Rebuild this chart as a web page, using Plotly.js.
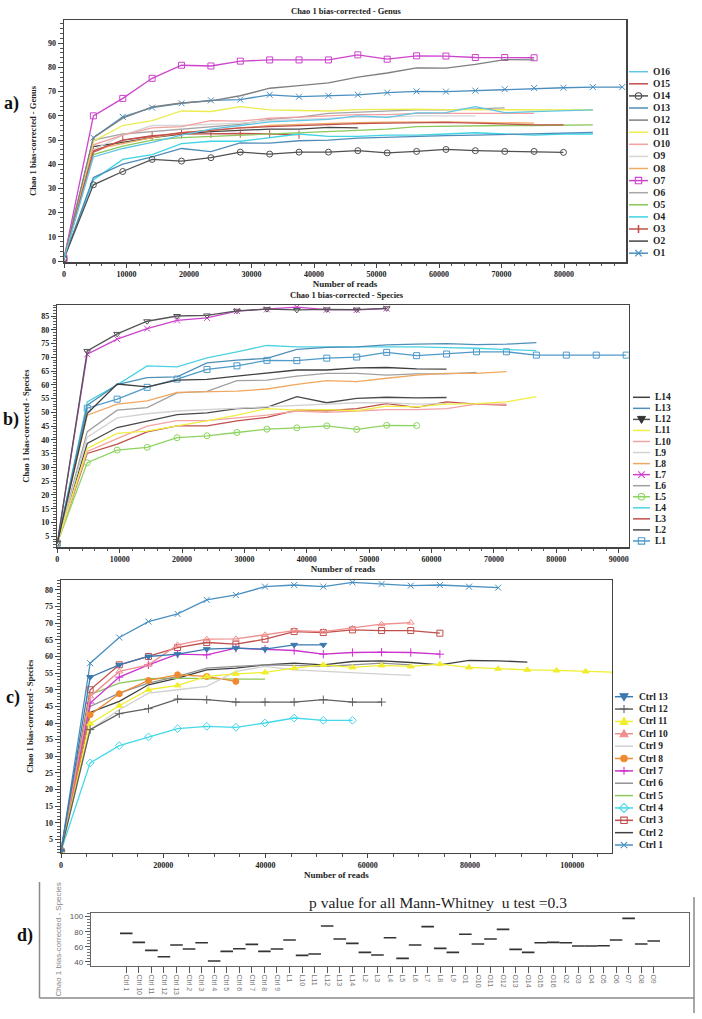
<!DOCTYPE html>
<html><head><meta charset="utf-8">
<script src="https://cdn.plot.ly/plotly-3.0.1.min.js"></script>
<style>html,body{margin:0;padding:0;background:#fff;}#chart{width:702px;height:1019px;}</style>
</head><body><div id="chart"></div>
<script>
// ---------------- DATA ----------------
// Panel a: sampling depths (reads) and Chao1 genus estimates
const readsA = [0,4700,9400,14100,18800,23500,28200,32900,37600,42300,47000,51700,56400,61100,65800,70500,75200,79900,84600,89300];
const O1  = [1,51,59.6,63.4,65.2,66.4,66.7,68.7,67.9,68.3,68.7,69.6,70.1,70,70.4,71,71.5,71.6,71.9,71.9];
const O2  = [1,47.3,49,51,52.5,53.5,54,54.5,54.5,55.2,55];
const O3  = [1,45,50,51.8,52.4,52.6,52.7,52.5,52.2];
const O4  = [1,33.5,42,44,48.5,49.5,49.5,51,52.5,51.5,51.5,52,52,52.5,53,52.5,52,52.5,52.5];
const O5  = [1,44,47.5,50,51,51.5,52,52.5,53,53.5,54,54.5,55.5,55.7,56,56,56,56.2,56.3];
const O6  = [1,50,52.5,53.5,54.5,55.5,56.5,58.5,59.5,61,61.5,62,62.5,62.5,63,63.3];
const O7  = [1,60,67.2,75.5,80.9,80.6,82.6,83.1,83.1,83.1,85.2,83.4,84.8,84.7,84.1,84.1,84];
const O8  = [1,46,48.5,51,53,54,55,56,56.5,57,57.2,57.4,57.5,57.5,57.3,57,57];
const O9  = [1,46,52,56,56,56.5,57,58,58.5,59,59.5,59.5,60,60,60];
const O10 = [1,48,52,55,55.5,58,57.8,59,59.5,60,60.5,60.5,61,61,61,61,61];
const O11 = [1,49.5,56,58,62,61.8,63.8,62.5,62.2,62,62.6,62.8,62.8,62.6,62.5,62.5,62.5,62.4,62.4];
const O12 = [1,51,59,63.7,65.3,66.2,68.3,71.4,72.5,73.6,76,77.7,79.8,79.7,81.3,83.2,83.1];
const O13 = [1,34.5,40,43,46.5,45.2,48.8,48.7,49.7,50,50.8,51.2,51.5,51.8,52,52.3,52.8,53,53.2];
const O14 = [1,31.5,37,42,41.3,42.7,45,44.2,45,45,45.6,44.7,45.3,46.1,45.6,45.3,45.3,44.9];
const O15 = [1,45.5,50,51.5,53,54,55,55.5,56,56.5,56.8,57,57.2,57.3,57,56.5,56.3,56.3];
const O16 = [1,43,46.5,49,52,54.5,56,57.5,58,58.5,60,59.4,61.2,61.3,63.8,61.3,61.7,62.1,62.5];

// Panel b: species
const readsB = [0,4800,9600,14400,19200,24000,28800,33600,38400,43200,48000,52800,57600,62400,67200,72000,76800,81600,86400,91200];
const L1  = [2.5,51.5,54.8,59.1,62.1,65.6,66.9,68.9,68.8,69.7,70.1,71.8,70.6,71.2,72,72,70.8,70.8,70.8,70.8];
const L2  = [2.5,38.7,44.5,46.9,49.2,49.8,51.4,51.8,55.7,53.5,55.1,55.5,55.3,55.4];
const L3  = [2.5,35.1,38.5,42.9,45.1,45.1,46.9,48.2,50.8,50.6,51.4,53.2,51.8,53.8,53,52.6];
const L4  = [2.5,53.8,60,66.9,66.5,69.8,72,74.3,73.8,73.7,73.8,73.8,73.8,73.5,73.3,72.8,72.4];
const L5  = [2.5,31.7,36.3,37.3,40.8,41.5,42.7,43.9,44.4,45.1,43.8,45.3,45.2];
const L6  = [2.5,43,50.8,51.7,57.1,57.6,61.5,61.7,63.2,64.2,64.2,63.5,64,64,64.5];
const L7  = [2.5,71.1,76.6,80.4,83.4,84.3,86.8,87.4,88.2,87.3,87.2,87.7];
const L8  = [2.5,49,53,54.2,57.3,57.5,57.7,58.5,60.2,61.5,61.2,62.4,63.5,64.2,64.2,64.8];
const L9  = [2.5,41,48,49.5,50.5,51,51.5,52,52.5,53,53.5,53.5,53,53.2];
const L10 = [2.5,35.8,40.5,45,47,47,48,49,50.5,50,50.5,51,51,51.4,53,53];
const L11 = [2.5,36.9,42.4,43.2,45.1,46.9,49,51.4,50.8,51,50.6,52.3,52,53,53.2,53.8,55.7];
const L12 = [2.5,72.3,78.5,83.1,85,85.2,86.9,87.5,87.2,87.4,87.3,87.8];
const L13 = [2.5,52.6,60.1,62.6,62.9,68,69,69.6,72.9,73.6,73.8,74.5,74.8,75,74.6,74.8,75.3];
const L14 = [2.5,49.6,60.3,59.3,61.7,62,63.2,64.4,65.4,65.4,66.2,66.3,65.8,65.7];

// Panel c: control species
const readsC = [0,5700,11400,17100,22800,28500,34200,39900,45600,51300,57000,62700,68400,74100,79800,85500,91200,96900,102600,108300];
const Ctrl1  = [1.5,58,65.7,70.5,72.8,77,78.5,81,81.5,81,82.3,81.8,81.3,81.5,81,80.7];
const Ctrl2  = [1.5,43.2,46.5,51.5,53.5,56,56.5,57.5,58,57.5,58.5,58.7,58.2,57.5,58.8,58.7,58.3];
const Ctrl3  = [1.5,50,57.5,60,62.7,64.2,63.7,65.2,67.5,67.2,68,67.8,67.8,67];
const Ctrl4  = [1.5,28,33.2,35.8,38.3,39,38.7,40,41.5,40.8,40.8];
const Ctrl5  = [1.5,48.5,52,53.3,53.5,53.3,53.2,53.2];
const Ctrl6  = [1.5,45,49,52,54,56.5,57,57.5,57.3,57,57.5,58,57.5];
const Ctrl7  = [1.5,46,53.8,57.5,60.7,60.5,62.5,62.2,61.8,60.7,61.2,61.3,61.2,60.7];
const Ctrl8  = [1.5,42.5,48.8,52.8,54.5,54,52.5];
const Ctrl9  = [1.5,38,44,49,50,51,55.5,57,56,55.5,55.2,54.7,54.3];
const Ctrl10 = [1.5,48,55.5,57.5,63.5,65.2,65.3,66.5,67.8,67.5,68.5,69.7,70.2];
const Ctrl11 = [1.5,39.8,45.2,50,51.3,54,54.8,55.2,56.5,57.5,56.7,57.3,57,57.7,56.7,56.3,56,55.8,55.5,55.3];
const Ctrl12 = [1.5,38,42.8,44.3,47.2,47,46.3,46.3,46.3,47,46.3,46.3];
const Ctrl13 = [1.5,53.8,57.5,60,60.7,62.2,62.5,62.2,63.5,63.5];

// Panel d: per-sample Chao1 species
const samplesD = ['Ctrl 1','Ctrl 10','Ctrl 11','Ctrl 12','Ctrl 13','Ctrl 2','Ctrl 3','Ctrl 4','Ctrl 5','Ctrl 6','Ctrl 7','Ctrl 8','Ctrl 9',
  'L1','L10','L11','L12','L13','L14','L2','L3','L4','L5','L6','L7','L8','L9',
  'O1','O10','O11','O12','O13','O14','O15','O16','O2','O3','O4','O5','O6','O7','O8','O9'];
const chaoD = [77.8,65.8,55.1,46.7,62.2,57,65.3,41,53.8,57.3,63.1,53.8,57,
  68.9,48.4,50.2,87.6,70.2,64.4,52.5,48.9,72,44.4,62.2,86.7,57.8,52.5,
  76.5,63.6,70.2,83.1,56.5,52.5,65.3,65.8,65.3,61,61,61.3,68.9,97.8,63.6,67.6];

// ---------------- STYLES ----------------
const serif = 'Liberation Serif, Times New Roman, serif';
const styleA = {
  O1:{c:'#4a8fc0',s:'x-thin'}, O2:{c:'#454545'}, O3:{c:'#c0504d',s:'line-ns'}, O4:{c:'#3fd3e3'},
  O5:{c:'#8cc85a'}, O6:{c:'#a6a6a6'}, O7:{c:'#cc44cc',s:'square-open'}, O8:{c:'#f0aa66'},
  O9:{c:'#d6d6d6'}, O10:{c:'#f2a0a0'}, O11:{c:'#ecec50'}, O12:{c:'#7f7f7f'},
  O13:{c:'#4f8db8'}, O14:{c:'#505050',s:'circle-open'}, O15:{c:'#c0504d'}, O16:{c:'#5ec6e6'}
};
const styleB = {
  L1:{c:'#4f9ac8',s:'square-open'}, L2:{c:'#4a4a4a'}, L3:{c:'#c0504d'}, L4:{c:'#4dd2e2'},
  L5:{c:'#8dd35f',s:'circle-open'}, L6:{c:'#a0a0a0'}, L7:{c:'#cc44cc',s:'x-thin'}, L8:{c:'#f0a860'},
  L9:{c:'#d2d2d2'}, L10:{c:'#f4a3a3'}, L11:{c:'#eeee44'}, L12:{c:'#555555',s:'triangle-down-open'},
  L13:{c:'#4f8fb8'}, L14:{c:'#404040'}
};
const styleC = {
  'Ctrl 1':{c:'#4a90c0',s:'x-thin'}, 'Ctrl 2':{c:'#404040'}, 'Ctrl 3':{c:'#c0504d',s:'square-open'},
  'Ctrl 4':{c:'#44d8e8',s:'diamond-open'}, 'Ctrl 5':{c:'#8dc85a'}, 'Ctrl 6':{c:'#929292'},
  'Ctrl 7':{c:'#cc33cc',s:'cross-thin'}, 'Ctrl 8':{c:'#f08a30',s:'circle'}, 'Ctrl 9':{c:'#d0d0d0'},
  'Ctrl 10':{c:'#ef8f8f',s:'triangle-up-open'}, 'Ctrl 11':{c:'#f0ee30',s:'triangle-up'},
  'Ctrl 12':{c:'#606060',s:'cross-thin'}, 'Ctrl 13':{c:'#3a7ab0',s:'triangle-down'}
};

const seriesA = {O1,O2,O3,O4,O5,O6,O7,O8,O9,O10,O11,O12,O13,O14,O15,O16};
const seriesB = {L1,L2,L3,L4,L5,L6,L7,L8,L9,L10,L11,L12,L13,L14};
const seriesC = {'Ctrl 1':Ctrl1,'Ctrl 2':Ctrl2,'Ctrl 3':Ctrl3,'Ctrl 4':Ctrl4,'Ctrl 5':Ctrl5,'Ctrl 6':Ctrl6,'Ctrl 7':Ctrl7,
  'Ctrl 8':Ctrl8,'Ctrl 9':Ctrl9,'Ctrl 10':Ctrl10,'Ctrl 11':Ctrl11,'Ctrl 12':Ctrl12,'Ctrl 13':Ctrl13};

// ---------------- LAYOUT HELPERS ----------------
const W = 702, H = 1019;
const fx = p => p / W;
const fy = p => 1 - p / H;

const traces = [];
function addSeries(series, styles, reads, xa, ya) {
  Object.keys(series).forEach(name => {
    const y = series[name], st = styles[name];
    const t = {type:'scatter', mode: st.s ? 'lines+markers' : 'lines', name,
      x: reads.slice(0, y.length), y, xaxis: xa, yaxis: ya, showlegend:false,
      line:{color: st.c, width: 1.3}, hoverinfo:'skip', cliponaxis:true};
    if (st.s) t.marker = {symbol: st.s, size: 6, color: st.c, line:{color: st.c, width: 1}};
    traces.push(t);
  });
}
addSeries(seriesA, styleA, readsA, 'x', 'y');
addSeries(seriesB, styleB, readsB, 'x2', 'y2');
addSeries(seriesC, styleC, readsC, 'x3', 'y3');
traces.push({type:'scatter', mode:'markers', x: samplesD, y: chaoD, xaxis:'x4', yaxis:'y4', showlegend:false,
  hoverinfo:'skip', marker:{symbol:'line-ew', size:9, color:'#333', line:{color:'#333', width:1.6}}});

const tickFont = {family: serif, size: 8, color: '#222', weight: 'bold'};
const titleFont = {family: serif, size: 8.5, color: '#222', weight: 'bold'};
function xax(l, r, range, dtick, minor, anchor, title) {
  return {domain:[fx(l), fx(r)], range, dtick, tick0:0, tickformat:'d', anchor, ticks:'outside', ticklen:4, tickwidth:1,
    tickcolor:'#444', showline:true, mirror:true, linecolor:'#444', linewidth:1.5, showgrid:false, zeroline:false,
    tickfont:tickFont, minor:{dtick:minor, ticks:'outside', ticklen:2.5, tickcolor:'#555', showgrid:false},
    title:{text:title, font:{...titleFont, size:9}, standoff:0}, fixedrange:true};
}
function yax(t, b, range, dtick, minor, anchor, title, standoff) {
  return {domain:[fy(b), fy(t)], range, dtick, tick0:0, anchor, ticks:'outside', ticklen:5, tickwidth:1,
    tickcolor:'#444', showline:true, mirror:true, linecolor:'#444', linewidth:1.5, showgrid:false, zeroline:false,
    tickfont:tickFont, minor:{dtick:minor, ticks:'outside', ticklen:2.5, tickcolor:'#555', showgrid:false},
    title:{text:title, font:titleFont, standoff}, fixedrange:true};
}

const shapes = [], annotations = [];
function ann(text, x, y, font, extra) {
  annotations.push(Object.assign({xref:'paper', yref:'paper', x:fx(x), y:fy(y), text, showarrow:false,
    xanchor:'center', yanchor:'middle', font}, extra || {}));
}
function markerShape(sym, color, cx, cy) {
  const base = {xref:'paper', yref:'paper', xsizemode:'pixel', ysizemode:'pixel', xanchor:fx(cx), yanchor:fy(cy),
    line:{color, width:1.1}, fillcolor:'rgba(0,0,0,0)'};
  const s = 3.2;
  switch (sym) {
    case 'square-open': return {...base, type:'rect', x0:-s, x1:s, y0:-s, y1:s};
    case 'circle-open': return {...base, type:'circle', x0:-s, x1:s, y0:-s, y1:s};
    case 'circle': return {...base, type:'circle', x0:-s, x1:s, y0:-s, y1:s, fillcolor:color};
    case 'x-thin': return {...base, type:'path', path:'M-3.2,-3.2L3.2,3.2M-3.2,3.2L3.2,-3.2'};
    case 'line-ns': return {...base, type:'path', path:'M0,-4L0,4', line:{color, width:1.6}};
    case 'cross-thin': return {...base, type:'path', path:'M-4,0L4,0M0,-4L0,4'};
    case 'triangle-down': return {...base, type:'path', path:'M-4,3L4,3L0,-4Z', fillcolor:color};
    case 'triangle-down-open': return {...base, type:'path', path:'M-4,3L4,3L0,-4Z', fillcolor:'#333', line:{color:'#333', width:1}};
    case 'triangle-up': return {...base, type:'path', path:'M-4,-3L4,-3L0,4Z', fillcolor:color};
    case 'triangle-up-open': return {...base, type:'path', path:'M-4,-3L4,-3L0,4Z', fillcolor:color};
    case 'diamond-open': return {...base, type:'path', path:'M0,4.5L4.5,0L0,-4.5L-4.5,0Z'};
  }
  return null;
}
function drawLegend(names, styles, x0, x1, tx, yTop, dy) {
  names.forEach((n, i) => {
    const st = styles[n], y = yTop + i * dy;
    shapes.push({type:'line', xref:'paper', yref:'paper', x0:fx(x0), x1:fx(x1), y0:fy(y), y1:fy(y),
      line:{color:st.c, width:1.5}});
    if (st.s) shapes.push(markerShape(st.s, st.c, (x0 + x1) / 2, y));
    ann(n, tx, y, {family:serif, size:9.5, color:'#222', weight:'bold'}, {xanchor:'left'});
  });
}

drawLegend(Object.keys(seriesA).reverse(), styleA, 629, 648, 651, 71.7, 12.1);
drawLegend(Object.keys(seriesB).reverse(), styleB, 633, 650, 653, 397.3, 11.05);
drawLegend(Object.keys(seriesC).reverse(), styleC, 615, 633, 637, 696.7, 12.36);

// titles and panel labels
ann('Chao 1 bias-corrected - Genus', 346, 11, {family:serif, size:8.5, color:'#222', weight:'bold'});
ann('Chao 1 bias-corrected - Species', 347, 295, {family:serif, size:8.5, color:'#222', weight:'bold'});
const lab = {family:serif, size:18, color:'#111', weight:'bold'};
ann('a)', 11, 103, lab); ann('b)', 11, 419, lab); ann('c)', 13, 697, lab); ann('d)', 25, 935, lab);
ann('p value for all Mann-Whitney  u test =0.3', 438, 902, {family:serif, size:15.5, color:'#222'});

// panel d frame
const fr = {color:'#8a8a8a', width:1.5};
shapes.push({type:'line', xref:'paper', yref:'paper', x0:fx(39.5), x1:fx(39.5), y0:fy(882), y1:fy(998), line:fr});
shapes.push({type:'line', xref:'paper', yref:'paper', x0:fx(39.5), x1:fx(694), y0:fy(998), y1:fy(998), line:fr});
shapes.push({type:'line', xref:'paper', yref:'paper', x0:fx(694), x1:fx(694), y0:fy(897), y1:fy(1013), line:fr});

const layout = {
  width: W, height: H, margin:{l:0, r:0, t:0, b:0}, paper_bgcolor:'#fff', plot_bgcolor:'#fff', showlegend:false,
  xaxis:  xax(64, 626, [0, 89900], 10000, 2000, 'y', 'Number of reads'),
  yaxis:  yax(20, 262, [-0.4, 99.6], 10, 2, 'x', 'Chao 1 bias-corrected - Genus', 10),
  xaxis2: xax(57.3, 628.7, [0, 91600], 10000, 2000, 'y2', 'Number of reads'),
  yaxis2: yax(305, 547.3, [1, 89], 5, 1, 'x2', 'Chao 1 bias-corrected - Species', 10),
  xaxis3: xax(61, 611.7, [0, 107700], 20000, 5000, 'y3', 'Number of reads'),
  yaxis3: yax(580, 852.7, [1, 83], 5, 1, 'x3', 'Chao 1 bias-corrected - Species', 10),
  xaxis4: {domain:[fx(90.7), fx(689.3)], anchor:'y4', type:'category', categoryorder:'array', categoryarray: samplesD,
    ticks:'outside', ticklen:6, tickcolor:'#555', tickangle:90, showline:true, mirror:true, linecolor:'#666', linewidth:1,
    showgrid:false, tickfont:{family:'Liberation Sans, Arial, sans-serif', size:7, color:'#777'}, fixedrange:true},
  yaxis4: {domain:[fy(966), fy(912.7)], anchor:'x4', range:[34.3, 105.3], dtick:20, tick0:0, ticks:'outside', ticklen:5,
    tickcolor:'#555', showline:true, mirror:true, linecolor:'#666', linewidth:1, showgrid:false, zeroline:false,
    minor:{dtick:4, ticks:'outside', ticklen:3, tickcolor:'#777', showgrid:false},
    tickfont:{family:'Liberation Sans, Arial, sans-serif', size:8, color:'#555'},
    title:{text:'Chao 1 bias-corrected - Species', font:{family:'Liberation Sans, Arial, sans-serif', size:8, color:'#888'}, standoff:6},
    fixedrange:true},
  shapes, annotations
};
Plotly.newPlot('chart', traces, layout, {displayModeBar:false, staticPlot:true});
</script></body></html>
